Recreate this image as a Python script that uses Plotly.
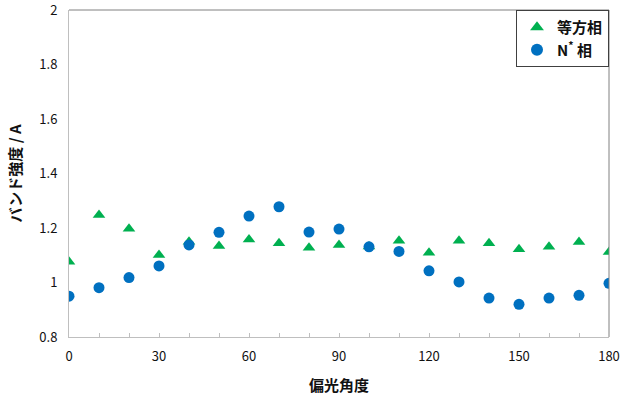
import plotly.graph_objects as go

angles = [0, 10, 20, 30, 40, 50, 60, 70, 80, 90, 100, 110, 120, 130, 140, 150, 160, 170, 180]
isotropic = [1.076, 1.248, 1.197, 1.101, 1.150, 1.134, 1.158, 1.144, 1.128, 1.138, 1.132,
             1.153, 1.109, 1.153, 1.144, 1.122, 1.131, 1.149, 1.112]
nstar = [0.950, 0.981, 1.018, 1.061, 1.138, 1.184, 1.244, 1.278, 1.185, 1.196, 1.131,
         1.114, 1.043, 1.002, 0.943, 0.920, 0.943, 0.953, 0.997]
y_ticks = [0.8, 1, 1.2, 1.4, 1.6, 1.8, 2]
y_labels = ["0.8", "1", "1.2", "1.4", "1.6", "1.8", "2"]
x_ticks = [0, 30, 60, 90, 120, 150, 180]

font_main = "Noto Sans CJK JP"

fig = go.Figure()
fig.add_trace(go.Scatter(x=angles, y=isotropic, mode="markers", name="等方相",
                         marker=dict(symbol="triangle-up", size=11, color="#00B050")))
fig.add_trace(go.Scatter(x=angles, y=nstar, mode="markers", name="N<sup>*</sup> 相",
                         marker=dict(symbol="circle", size=11, color="#0070C0")))

fig.update_layout(
    width=623, height=398,
    margin=dict(l=69, r=14, t=10, b=61),
    paper_bgcolor="white", plot_bgcolor="white",
    font=dict(family=font_main, color="#111111", size=13),
    showlegend=True,
    legend=dict(x=1, y=1, xanchor="right", yanchor="top",
                bordercolor="#404040", borderwidth=1, bgcolor="white",
                font=dict(size=15, family=font_main, color="#111111", weight="bold"),
                tracegroupgap=0, itemsizing="constant", itemwidth=30),
    xaxis=dict(range=[0, 180], tickvals=x_ticks, automargin=False,
               ticks="inside", ticklen=4, tickcolor="#bfbfbf",
               minor=dict(tickvals=list(range(0, 181, 10)), ticks="inside", ticklen=4, tickcolor="#bfbfbf"),
               showline=True, linecolor="#bfbfbf", linewidth=1, showgrid=False, zeroline=False,
               tickfont=dict(size=13, color="#111111"), ticklabeloverflow="allow",
               ticklabelstandoff=7,
               title=dict(text="偏光角度", font=dict(size=15, weight="bold", color="#111111"), standoff=16)),
    yaxis=dict(range=[0.8, 2.0001], tickvals=y_ticks, ticktext=y_labels, automargin=False,
               ticks="", showline=True, linecolor="#bfbfbf", linewidth=1,
               showgrid=False, zeroline=False, ticklabeloverflow="allow",
               ticklabelstandoff=8,
               tickfont=dict(size=13, color="#111111"),
               title=dict(text="バンド強度 / A", font=dict(size=15, weight="bold", color="#111111"), standoff=14)),
    shapes=[
        dict(type="line", xref="paper", yref="paper", x0=0, x1=1, y0=1, y1=1,
             line=dict(color="#808080", width=1)),
        dict(type="line", xref="paper", yref="paper", x0=1, x1=1, y0=0, y1=1,
             line=dict(color="#808080", width=1)),
    ],
)

fig.write_html("out.html")
